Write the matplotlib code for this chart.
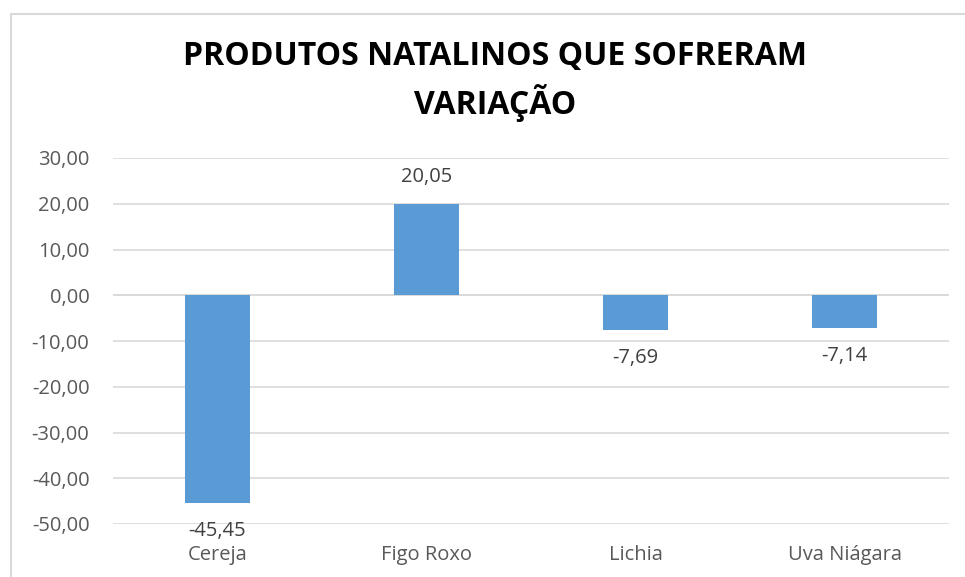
import numpy as np
import matplotlib.pyplot as plt
from matplotlib.patches import Rectangle

# dados do gráfico
produtos = ['Cereja', 'Figo Roxo', 'Lichia', 'Uva Niágara']
variacao = [-45.45, 20.05, -7.69, -7.14]
yticks = [30, 20, 10, 0, -10, -20, -30, -40, -50]

def fmt_br(v):
    return f'{v:.2f}'.replace('.', ',')

plt.rcParams['font.family'] = ['Open Sans', 'DejaVu Sans']

fig = plt.figure(figsize=(9.65, 5.77), dpi=100)
ax = fig.add_axes([113/965, 1 - 524/577, (949 - 113)/965, (524 - 158)/577])

x = np.arange(len(produtos))
ax.bar(x, variacao, width=0.315, color='#5B9BD5', zorder=3)

ax.set_xlim(-0.5, len(produtos) - 0.5)
ax.set_ylim(-50, 30)
ax.set_yticks(yticks)
ax.set_yticklabels([fmt_br(v) for v in yticks])
ax.set_xticks([])

ax.grid(axis='y', color='#D9D9D9', linewidth=1.2, zorder=0)
ax.axhline(0, color='#D9D9D9', linewidth=1.2, zorder=1)
for s in ax.spines.values():
    s.set_visible(False)
ax.tick_params(axis='y', length=0, pad=17, labelsize=14.5, labelcolor='#595959')

# rótulos das categorias abaixo do eixo
for i, nome in enumerate(produtos):
    ax.annotate(nome, (i, -50), xytext=(0, -15), textcoords='offset points',
                ha='center', va='top', fontsize=14.5, color='#595959',
                annotation_clip=False)

# rótulos de dados
for i, v in enumerate(variacao):
    if v >= 0:
        ax.annotate(fmt_br(v), (i, v), xytext=(0, 12), textcoords='offset points',
                    ha='center', va='bottom', fontsize=14.5, color='#404040')
    else:
        ax.annotate(fmt_br(v), (i, v), xytext=(0, -13), textcoords='offset points',
                    ha='center', va='top', fontsize=14.5, color='#404040',
                    annotation_clip=False)

fig.text(495/965, 1 - 81/577, 'PRODUTOS NATALINOS QUE SOFRERAM\nVARIAÇÃO',
         ha='center', va='center', fontsize=23, fontweight='bold',
         color='black', linespacing=1.35)

# borda do gráfico
fig.patches.append(Rectangle((11/965, -0.1), 1.2, 1 - 14/577 + 0.1,
                             transform=fig.transFigure, fill=False,
                             edgecolor='#D9D9D9', linewidth=1.5))

fig.savefig('out.png', dpi=100)
